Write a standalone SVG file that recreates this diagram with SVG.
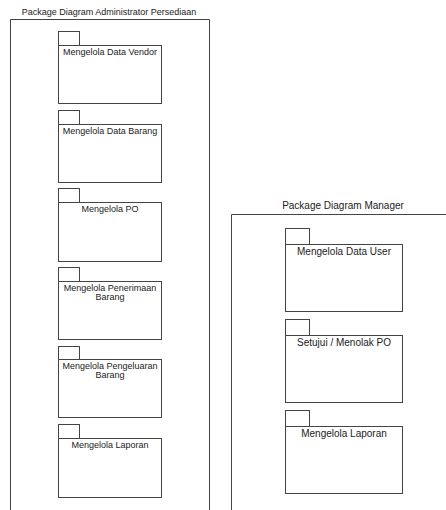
<svg xmlns="http://www.w3.org/2000/svg" width="446" height="510" viewBox="0 0 446 510">
<style>
.frame{fill:none;stroke:#444;stroke-width:1}
.pk{fill:#fff;stroke:#444;stroke-width:1}
text{font-family:"Liberation Sans",Arial,sans-serif;fill:#222;text-anchor:middle}
.t{font-size:10px}
.s{font-size:9px}
</style>
<rect width="446" height="510" fill="#fff"/>
<g id="frame-admin">
<text class="s" x="109" y="15">Package Diagram Administrator Persediaan</text>
<path class="frame" d="M10.5,511 V19.5 H209.5 V511"/>
</g>
<g id="frame-manager">
<text class="t" x="343" y="209">Package Diagram Manager</text>
<path class="frame" d="M231.5,511 V214.5 H447"/>
</g>
<g id="connectors"></g>
<g id="pkg-vendor">
<rect class="pk" x="58.5" y="31.5" width="21" height="14"/>
<rect class="pk" x="58.5" y="45.5" width="103" height="58"/>
<text class="s" x="110" y="55">Mengelola Data Vendor</text>
</g>
<g id="pkg-barang">
<rect class="pk" x="58.5" y="110.5" width="21" height="14"/>
<rect class="pk" x="58.5" y="124.5" width="103" height="58"/>
<text class="s" x="110" y="134">Mengelola Data Barang</text>
</g>
<g id="pkg-po">
<rect class="pk" x="58.5" y="188.5" width="21" height="14"/>
<rect class="pk" x="58.5" y="202.5" width="103" height="59"/>
<text class="s" x="110" y="212">Mengelola PO</text>
</g>
<g id="pkg-penerimaan">
<rect class="pk" x="58.5" y="267.5" width="21" height="14"/>
<rect class="pk" x="58.5" y="281.5" width="103" height="58"/>
<text class="s" x="110" y="291">Mengelola Penerimaan</text>
<text class="s" x="110" y="300">Barang</text>
</g>
<g id="pkg-pengeluaran">
<rect class="pk" x="58.5" y="346.5" width="21" height="13"/>
<rect class="pk" x="58.5" y="359.5" width="103" height="58"/>
<text class="s" x="110" y="369">Mengelola Pengeluaran</text>
<text class="s" x="110" y="378">Barang</text>
</g>
<g id="pkg-laporan-admin">
<rect class="pk" x="58.5" y="424.5" width="21" height="14"/>
<rect class="pk" x="58.5" y="438.5" width="103" height="59"/>
<text class="s" x="110" y="448">Mengelola Laporan</text>
</g>
<g id="pkg-user">
<rect class="pk" x="285.5" y="228.5" width="24" height="16"/>
<rect class="pk" x="285.5" y="244.5" width="117" height="67"/>
<text class="t" x="344" y="255">Mengelola Data User</text>
</g>
<g id="pkg-setujui">
<rect class="pk" x="285.5" y="319.5" width="24" height="16"/>
<rect class="pk" x="285.5" y="335.5" width="117" height="67"/>
<text class="t" x="344" y="346">Setujui / Menolak PO</text>
</g>
<g id="pkg-laporan-manager">
<rect class="pk" x="285.5" y="410.5" width="24" height="16"/>
<rect class="pk" x="285.5" y="426.5" width="117" height="67"/>
<text class="t" x="344" y="437">Mengelola Laporan</text>
</g>
</svg>
